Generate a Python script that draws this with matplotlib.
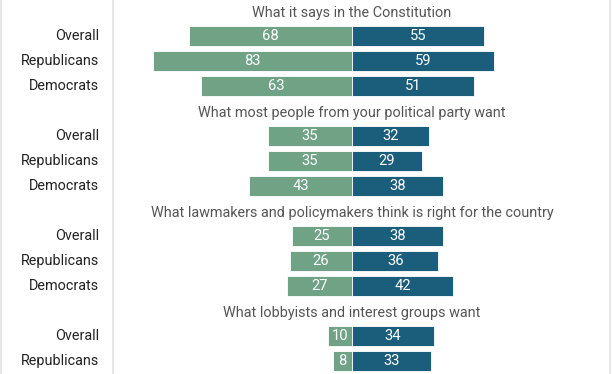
import matplotlib
matplotlib.use('Agg')
import matplotlib.pyplot as plt
from matplotlib.lines import Line2D

plt.rcParams['font.family'] = ['Roboto', 'DejaVu Sans']

groups = ['What it says in the Constitution',
          'What most people from your political party want',
          'What lawmakers and policymakers think is right for the country',
          'What lobbyists and interest groups want']
rows = ['Overall', 'Republicans', 'Democrats']

# left (green) and right (blue) values per group, per row
left_vals = [[68, 83, 63], [35, 35, 43], [25, 26, 27], [10, 8]]
right_vals = [[55, 59, 51], [32, 29, 38], [38, 36, 42], [34, 33]]

green = '#70a286'
blue = '#1a5e7c'

fig = plt.figure(figsize=(6.12, 3.74), dpi=100)
ax = fig.add_axes([0, 0, 1, 1])
ax.set_xlim(-352 / 2.4, 260 / 2.4)
ax.set_ylim((374 - 36) / 25, -36 / 25)
ax.axis('off')

for g, title in enumerate(groups):
    base = 4 * g
    ax.text(0, base - 0.9, title, ha='center', va='center', fontsize=10.4, color='#555555')
    for i in range(len(left_vals[g])):
        y = base + i
        lv = left_vals[g][i]
        rv = right_vals[g][i]
        ax.barh(y, -lv, height=0.8, color=green, edgecolor='white', linewidth=0.6)
        ax.barh(y, rv, height=0.8, color=blue, edgecolor='white', linewidth=0.6)
        ax.text(-lv / 2, y, str(lv), ha='center', va='center', fontsize=10.6, color='white')
        ax.text(rv / 2, y, str(rv), ha='center', va='center', fontsize=10.6, color='white')
        fig.text(99 / 612, 1 - (36 + 25 * y) / 374, rows[i], ha='right', va='center',
                 fontsize=10.4, color='#222222')

for xp in [1, 113, 610]:
    fig.add_artist(Line2D([xp / 612, xp / 612], [0, 1], color='#e2e2e2', linewidth=1.2))

fig.savefig('out.png', dpi=100)
